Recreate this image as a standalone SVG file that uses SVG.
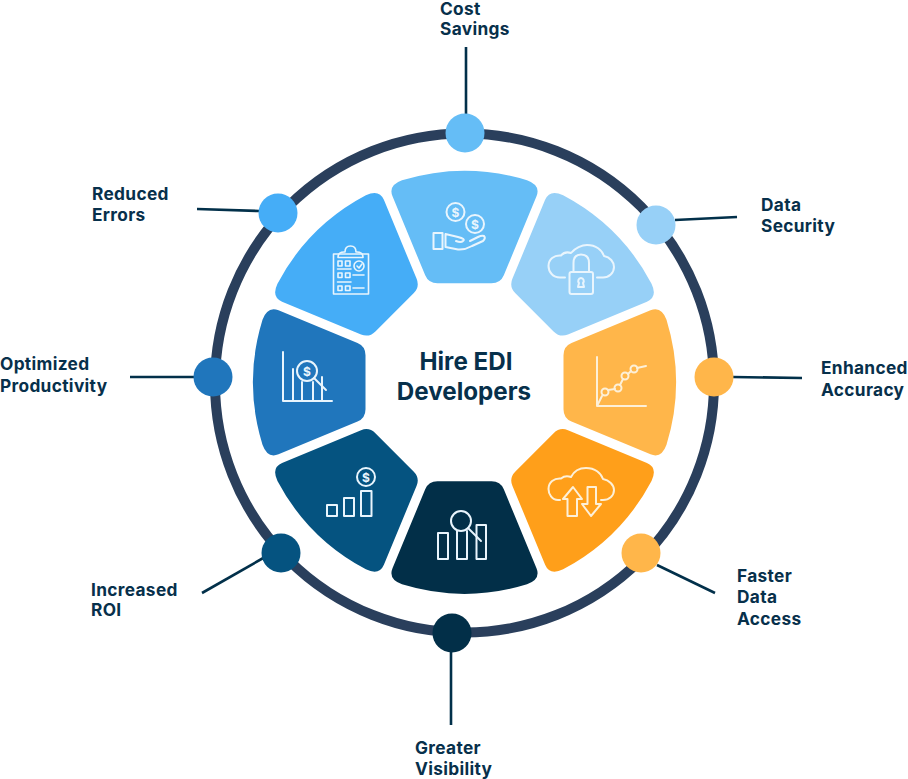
<svg xmlns="http://www.w3.org/2000/svg" width="908" height="779" viewBox="0 0 908 779">
<style>
.lb{font:700 17.3px Inter,"Liberation Sans",sans-serif;fill:#07304b;letter-spacing:.33px}
.tt{font:700 24.2px Inter,"Liberation Sans",sans-serif;fill:#07304b;text-anchor:middle}
.ic{fill:none;stroke:#e9f5fd;stroke-width:2;stroke-linejoin:round;stroke-linecap:round}
.or{stroke:#fdf0d8}
.d{font:700 12px Inter,"Liberation Sans",sans-serif;fill:#e9f5fd;text-anchor:middle}
.cn{fill:none;stroke:#02304a;stroke-width:2.6}
</style>
<defs>
<path id="seg" d="M-27,-99H27Q36,-99 39.3,-107L72,-186Q76.500,-197 62.500,-202A212,212 0 0 0 -62.500,-202Q-76.500,-197 -72,-186L-39.3,-107Q-36,-99 -27,-99Z"/>
</defs>
<circle id="ring" cx="464.500" cy="383" r="249.500" fill="none" stroke="#2a3f5c" stroke-width="10"/>
<g id="connectors" class="cn">
<path d="M466,47V114"/><path d="M675,220L737,217"/><path d="M733,377L802,378"/><path d="M657,565L715,593"/>
<path d="M451,652V725"/><path d="M265,557L202,593"/><path d="M194,377H130"/><path d="M197,209L259,211"/>
</g>
<g id="cost-savings">
<use href="#seg" transform="translate(464.500 382.300)" fill="#65bdf6"/>
<circle cx="465" cy="133" r="19.500" fill="#65bdf6"/>
<g class="ic"><circle cx="455.500" cy="212" r="9"/><circle cx="475" cy="224" r="9"/><rect x="433.500" y="233" width="9" height="16"/><path d="M445.500,234V247L458,249.500Q465,250 472,246L483,241Q486,238 484,236Q482,235 478,237L470,241M445.500,234L458,237Q466,239 463,241Q461,243 456,241"/></g>
<text class="d" x="455.500" y="216.500">$</text><text class="d" x="475" y="228.500">$</text>
<text class="lb" x="440" y="15">Cost</text><text class="lb" x="440" y="35">Savings</text>
</g>
<g id="data-security">
<use href="#seg" transform="translate(464.500 382.300) rotate(45)" fill="#97d0f7"/>
<circle cx="656" cy="225" r="19.500" fill="#97d0f7"/>
<g class="ic"><path d="M565,277.500H560C553,277.500 548.500,272 548.500,266C548.500,259 554,255 561,255.500C564,252 568,252 571,253C575,248 582,245 587,245C596,245 602,250 604,256C610,257 614,262 614,267C614,273 609,277.500 603,277.500H597"/><rect x="569.500" y="272" width="23.500" height="22" rx="2"/><path d="M573.500,272V263Q573.500,254.500 581,254.500Q589,254.500 589,263V272"/><path d="M581,278a3,3 0 0 1 2,5l1,4h-6l1,-4a3,3 0 0 1 2,-5Z"/></g>
<text class="lb" x="761" y="211">Data</text><text class="lb" x="761" y="232">Security</text>
</g>
<g id="enhanced-accuracy">
<use href="#seg" transform="translate(464.500 382.300) rotate(90)" fill="#ffb64a"/>
<circle cx="714" cy="377" r="19.500" fill="#ffb64a"/>
<g class="ic or"><path d="M597,357V406H646M597,406L602,396M608,390L615,389M620,385L623,379M628,374L631,371M637,368L646,366"/><circle cx="605" cy="392" r="3.500"/><circle cx="618" cy="388" r="3.500"/><circle cx="625" cy="376" r="3.500"/><circle cx="634" cy="369" r="3.500"/></g>
<text class="lb" x="821" y="374">Enhanced</text><text class="lb" x="821" y="396">Accuracy</text>
</g>
<g id="faster-data-access">
<use href="#seg" transform="translate(464.500 382.300) rotate(135)" fill="#ff9f1a"/>
<circle cx="641" cy="553" r="19.500" fill="#ffb64a"/>
<g class="ic or"><path d="M560,500H558C552,500 548.500,494 548.500,489C548.500,482 554,478 561,478.500C564,476 568,476 571,477C574,471 580,468 586,468C595,468 601,473 603,479C609,480 614,485 614,490C614,496 609,500 603,500H601"/><path d="M573,487L563,499H567.500V516H577V499H582Z"/><path d="M587.500,487H596V504H601L591,516L582,504H587.500Z"/></g>
<text class="lb" x="737" y="582">Faster</text><text class="lb" x="737" y="603">Data</text><text class="lb" x="737" y="625">Access</text>
</g>
<g id="greater-visibility">
<use href="#seg" transform="translate(464.500 382.300) rotate(180)" fill="#022f48"/>
<circle cx="452" cy="633" r="19.500" fill="#022f48"/>
<g class="ic"><rect x="438" y="533" width="10" height="26"/><path d="M457,531V559H467V531M476.500,525H486V559H476.500Z"/><circle cx="461" cy="521" r="10"/><path d="M468,528L481,541"/></g>
<text class="lb" x="415" y="754">Greater</text><text class="lb" x="415" y="775">Visibility</text>
</g>
<g id="increased-roi">
<use href="#seg" transform="translate(464.500 382.300) rotate(225)" fill="#055380"/>
<circle cx="281" cy="553" r="19.500" fill="#055380"/>
<g class="ic"><rect x="327" y="505" width="10" height="11"/><rect x="344" y="498" width="10" height="18"/><rect x="361" y="491" width="10.500" height="25"/><circle cx="366" cy="477" r="9"/></g>
<text class="d" x="366" y="481.500">$</text>
<text class="lb" x="91" y="596">Increased</text><text class="lb" x="91" y="616">ROI</text>
</g>
<g id="optimized-productivity">
<use href="#seg" transform="translate(464.500 382.300) rotate(270)" fill="#2076bc"/>
<circle cx="213" cy="377" r="19.500" fill="#2076bc"/>
<g class="ic"><path d="M283,352V401H332M293,369V401M302,382V401M313,382V401M322,377V401"/><circle cx="307" cy="371" r="10"/><path d="M314,378L326,390"/></g>
<text class="d" x="307" y="375.500">$</text>
<text class="lb" x="0" y="370">Optimized</text><text class="lb" x="0" y="392">Productivity</text>
</g>
<g id="reduced-errors">
<use href="#seg" transform="translate(464.500 382.300) rotate(315)" fill="#45adf7"/>
<circle cx="278" cy="213" r="19.500" fill="#45adf7"/>
<g class="ic" style="stroke-width:1.600"><rect x="333.500" y="254" width="35" height="40"/><path d="M338,257.500Q338,252 344,252H345Q345,246 350.500,246Q356,246 356,252H357Q363,252 363,257.500Z"/><circle cx="359" cy="266" r="5"/><path d="M357,266L359,268L362,264"/><rect x="338" y="261" width="4" height="5"/><rect x="345.500" y="261" width="4.500" height="5"/><path d="M337.500,269H351M337.500,282H351M353,275H364M353,288H364"/><rect x="338" y="273" width="4" height="4.500"/><rect x="345.500" y="273" width="4.500" height="4.500"/><rect x="338" y="286" width="4" height="4.500"/><rect x="345.500" y="286" width="4.500" height="4.500"/></g>
<text class="lb" x="92" y="200">Reduced</text><text class="lb" x="92" y="221">Errors</text>
</g>
<g id="center">
<text class="tt" x="466" y="370">Hire EDI</text><text class="tt" x="464" y="400">Developers</text>
</g>
</svg>
